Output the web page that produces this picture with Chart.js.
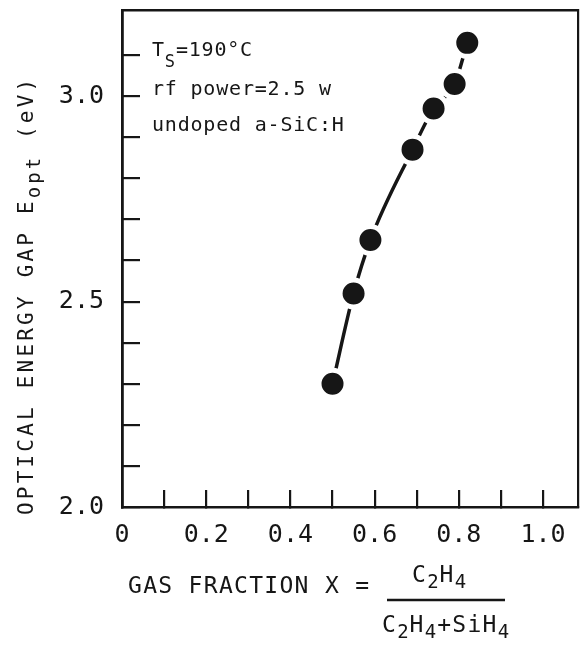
<!DOCTYPE html>
<html>
<head>
<meta charset="utf-8">
<script src="https://cdn.jsdelivr.net/npm/chart.js@4.4.1/dist/chart.umd.min.js"></script>
<style>
  html, body { margin: 0; padding: 0; background: #fff; }
  #wrap { width: 580px; height: 645px; }
</style>
</head>
<body>
<div id="wrap"><canvas id="gapChart"></canvas></div>
<script>
// values
const gasFraction = [0.50, 0.55, 0.59, 0.69, 0.74, 0.79, 0.82];
const opticalGap = [2.30, 2.52, 2.65, 2.87, 2.97, 3.03, 3.13];

const xTickValues = [0, 0.1, 0.2, 0.3, 0.4, 0.5, 0.6, 0.7, 0.8, 0.9, 1.0];
const xTickLabels = ['0', '0.2', '0.4', '0.6', '0.8', '1.0'];
const yTickValues = [2.0, 2.1, 2.2, 2.3, 2.4, 2.5, 2.6, 2.7, 2.8, 2.9, 3.0, 3.1];
const yTickLabels = ['2.0', '2.5', '3.0'];

const ink = '#161616';
const mono = '"DejaVu Sans Mono", monospace';

function drawRuns(ctx, x, y, runs, base, sub) {
  runs.forEach(r => {
    const f = r.sub ? sub : base;
    ctx.font = f.size + 'px ' + mono;
    ctx.letterSpacing = f.spacing + 'px';
    ctx.fillText(r.t, x, y + (r.sub ? f.drop : 0));
    x += ctx.measureText(r.t).width;
  });
  return x;
}

// fixed axis sizes so the plot frame lands where the original one is
function fixSize(w, h) {
  return s => {
    if (w !== null) s.width = w;
    if (h !== null) s.height = h;
    s.paddingTop = s.paddingBottom = s.paddingLeft = s.paddingRight = 0;
  };
}

const textPlugin = {
  id: 'texts',
  afterDraw(chart) {
    const ctx = chart.ctx;
    ctx.save();
    ctx.fillStyle = ink;
    ctx.textBaseline = 'alphabetic';
    ctx.textAlign = 'left';

    // notes in the top left corner
    const base = { size: 20, spacing: 0.8 };
    const sub = { size: 17, spacing: 0.8, drop: 11 };
    drawRuns(ctx, 152, 56, [{ t: 'T' }, { t: 'S', sub: true }, { t: '=190°C' }], base, sub);
    drawRuns(ctx, 152, 95, [{ t: 'rf power=2.5 w' }], base, sub);
    drawRuns(ctx, 152, 131, [{ t: 'undoped a-SiC:H' }], base, sub);

    // y axis title
    ctx.save();
    ctx.translate(33, 515);
    ctx.rotate(-Math.PI / 2);
    drawRuns(ctx, 0, 0,
      [{ t: 'OPTICAL ENERGY GAP E' }, { t: 'opt', sub: true }, { t: ' (eV)' }],
      { size: 21, spacing: 3.2 }, { size: 19, spacing: 3, drop: 7 });
    ctx.restore();

    // x axis title with fraction
    const big = { size: 23, spacing: 1.3 };
    const small = { size: 19, spacing: 1, drop: 6 };
    drawRuns(ctx, 128, 593, [{ t: 'GAS FRACTION X =' }], big, small);
    drawRuns(ctx, 412, 582, [{ t: 'C' }, { t: '2', sub: true }, { t: 'H' }, { t: '4', sub: true }], big, small);
    drawRuns(ctx, 382, 632, [{ t: 'C' }, { t: '2', sub: true }, { t: 'H' }, { t: '4', sub: true },
      { t: '+SiH' }, { t: '4', sub: true }], big, small);
    ctx.strokeStyle = ink;
    ctx.lineWidth = 2.5;
    ctx.beginPath();
    ctx.moveTo(387, 600);
    ctx.lineTo(505, 600);
    ctx.stroke();
    ctx.restore();
  }
};

const tickFont = { family: mono, size: 25 };

const config = {
  type: 'scatter',
  data: {
    datasets: [{
      data: gasFraction.map((x, i) => ({ x: x, y: opticalGap[i] })),
      showLine: true,
      cubicInterpolationMode: 'monotone',
      borderColor: ink,
      borderWidth: 3.5,
      pointRadius: 13.5,
      pointHoverRadius: 13.5,
      pointBorderWidth: 5,
      pointBorderColor: '#fff',
      pointBackgroundColor: ink
    }]
  },
  options: {
    responsive: true,
    maintainAspectRatio: false,
    animation: false,
    layout: { padding: 0, autoPadding: false },
    plugins: { legend: { display: false }, tooltip: { enabled: false } },
    scales: {
      x: {
        type: 'linear', position: 'bottom', min: 0, max: 1.083,
        afterBuildTicks: s => { s.ticks = xTickValues.map(v => ({ value: v })); },
        afterFit: fixSize(null, 138),
        grid: { drawOnChartArea: false, drawTicks: true, tickLength: -17, color: ink, lineWidth: 2.2 },
        border: { display: true, color: ink, width: 2.5 },
        ticks: {
          padding: 30, maxRotation: 0, autoSkip: false, color: ink, font: tickFont,
          callback: v => {
            const s = v === 0 ? '0' : v.toFixed(1);
            return xTickLabels.includes(s) ? s : '';
          }
        }
      },
      y: {
        type: 'linear', position: 'left', min: 2.0, max: 3.21,
        afterBuildTicks: s => { s.ticks = yTickValues.map(v => ({ value: v })); },
        afterFit: fixSize(122, null),
        grid: { drawOnChartArea: false, drawTicks: true, tickLength: -18, color: ink, lineWidth: 2.2 },
        border: { display: true, color: ink, width: 2.8 },
        ticks: {
          padding: 36, autoSkip: false, color: ink, font: tickFont,
          callback: v => {
            const s = v.toFixed(1);
            return yTickLabels.includes(s) ? s : '';
          }
        }
      },
      xTop: {
        type: 'linear', position: 'top', display: true,
        ticks: { display: false }, grid: { display: false },
        border: { display: true, color: ink, width: 2.5 },
        afterFit: fixSize(null, 10)
      },
      yRight: {
        type: 'linear', position: 'right', display: true,
        ticks: { display: false }, grid: { display: false },
        border: { display: true, color: ink, width: 2.2 },
        afterFit: fixSize(2, null)
      }
    }
  },
  plugins: [textPlugin]
};

const gapChart = new Chart(document.getElementById('gapChart'), config);
</script>
</body>
</html>
